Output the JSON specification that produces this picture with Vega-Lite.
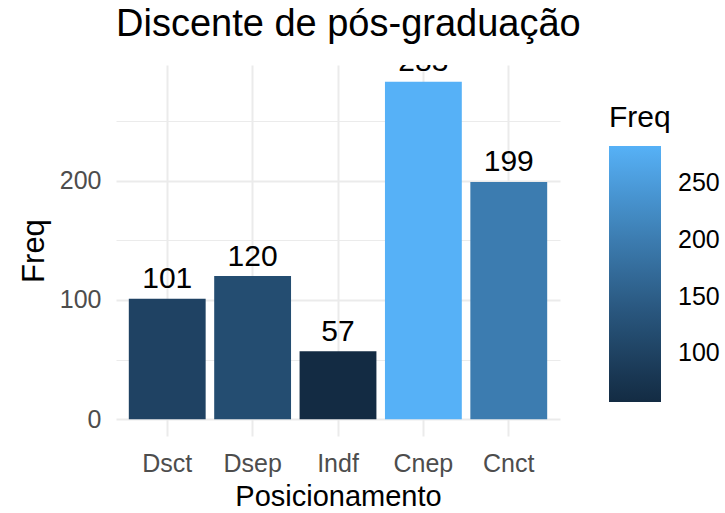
{
  "$schema": "https://vega.github.io/schema/vega-lite/v6.json",
  "width": 444,
  "height": 371,
  "autosize": {"type": "none"},
  "padding": {"left": 116, "top": 65, "right": 165, "bottom": 77},
  "background": "white",
  "config": {"font": "Liberation Sans", "view": {"stroke": null}},
  "title": {
    "text": "Discente de pós-graduação",
    "anchor": "start",
    "frame": "group",
    "fontSize": 38,
    "font": "Liberation Sans",
    "fontWeight": "normal",
    "color": "black",
    "baseline": "alphabetic",
    "offset": -9
  },
  "data": {
    "values": [
      {"Posicionamento": "Dsct", "Freq": 101},
      {"Posicionamento": "Dsep", "Freq": 120},
      {"Posicionamento": "Indf", "Freq": 57},
      {"Posicionamento": "Cnep", "Freq": 283},
      {"Posicionamento": "Cnct", "Freq": 199}
    ]
  },
  "encoding": {
    "x": {
      "field": "Posicionamento",
      "type": "nominal",
      "sort": null,
      "scale": {"paddingInner": 0.1, "paddingOuter": 0.15},
      "axis": {
        "labelAngle": 0,
        "labelFontSize": 25,
        "labelColor": "#4D4D4D",
        "labelPadding": 15,
        "ticks": false,
        "domain": false,
        "grid": true,
        "bandPosition": 0.5,
        "gridColor": "#EBEBEB",
        "gridWidth": 2,
        "title": "Posicionamento",
        "titleFontSize": 29,
        "titleFontWeight": "normal",
        "titleColor": "black",
        "titlePadding": 6
      }
    },
    "y": {
      "field": "Freq",
      "type": "quantitative",
      "scale": {"domain": [-14.15, 297.15], "nice": false, "zero": false},
      "axis": {
        "values": [0, 50, 100, 150, 200, 250],
        "labelExpr": "datum.value % 100 === 0 ? datum.label : ''",
        "labelFontSize": 25,
        "labelColor": "#4D4D4D",
        "labelPadding": 15,
        "ticks": false,
        "domain": false,
        "grid": true,
        "gridColor": "#EBEBEB",
        "gridWidth": {"condition": {"test": "datum.value % 100 === 0", "value": 2}, "value": 1},
        "title": "Freq",
        "titleFontSize": 31,
        "titleFontWeight": "normal",
        "titleColor": "black",
        "titlePadding": 9
      }
    }
  },
  "layer": [
    {
      "mark": {"type": "bar"},
      "encoding": {
        "y2": {"datum": 0},
        "fill": {
          "field": "Freq",
          "type": "quantitative",
          "scale": {"domain": [57, 283], "range": ["#132B43", "#56B1F7"], "interpolate": "lab"},
          "legend": {
            "orient": "none",
            "legendX": 493,
            "legendY": 38,
            "direction": "vertical",
            "gradientLength": 256,
            "gradientThickness": 52,
            "gradientStrokeWidth": 0,
            "values": [100, 150, 200, 250],
            "labelOverlap": false,
            "titleFontSize": 30,
            "titleFontWeight": "normal",
            "titleColor": "black",
            "titlePadding": 13,
            "labelFontSize": 25,
            "labelColor": "black",
            "labelOffset": 17,
            "padding": 0,
            "title": "Freq"
          }
        }
      }
    },
    {
      "mark": {"type": "text", "clip": true, "baseline": "alphabetic", "dy": -10.5, "fontSize": 30, "color": "black"},
      "encoding": {"text": {"field": "Freq", "type": "quantitative"}}
    }
  ]
}
